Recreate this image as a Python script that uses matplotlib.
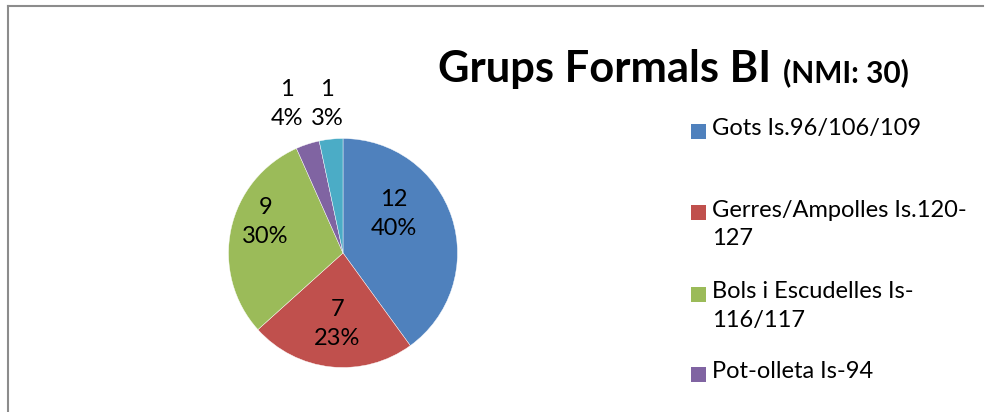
import matplotlib as mpl
mpl.use("Agg")
import matplotlib.pyplot as plt
from matplotlib.patches import Rectangle
from matplotlib.lines import Line2D

# data
groups = ["Gots Is.96/106/109", "Gerres/Ampolles Is.120-\n127",
          "Bols i Escudelles Is-\n116/117", "Pot-olleta Is-94", "Altres"]
counts = [12, 7, 9, 1, 1]
pct_labels = ["40%", "23%", "30%", "4%", "3%"]
colors = ["#4F81BD", "#C0504D", "#9BBB59", "#8064A2", "#4BACC6"]

# label spots in pie-radius units (Excel "best fit")
label_pos = [(0.44, 0.34), (-0.05, -0.62), (-0.68, 0.27), (-0.49, 1.30), (-0.14, 1.30)]

plt.rcParams['font.family'] = ['Lato', 'DejaVu Sans']
W, H = 992, 412
fig = plt.figure(figsize=(W / 100, H / 100), dpi=100)

# pie, centre (343, 253) px from top, radius ~114.5 px
cx, cy, r = 343, 253, 114.5
ax = fig.add_axes([(cx - r) / W, (H - cy - r) / H, 2 * r / W, 2 * r / H])
wedges, _ = ax.pie(counts, colors=colors, startangle=90, counterclock=False,
                   radius=1, wedgeprops=dict(edgecolor="white", linewidth=0.3))
ax.set_xlim(-1, 1)
ax.set_ylim(-1, 1)
ax.set_aspect("equal")
ax.axis("off")

for n, p, (lx, ly) in zip(counts, pct_labels, label_pos):
    ax.text(lx, ly, "%d\n%s" % (n, p), ha="center", va="center", fontsize=17,
            linespacing=1.45, color="black", clip_on=False)

# title
t1 = fig.text(438 / W, 1 - 82 / H, "Grups Formals BI", fontsize=31.3, fontweight="bold",
              ha="left", va="baseline")
fig.canvas.draw()
bb = t1.get_window_extent()
fig.text((bb.x1 + 12) / W, 1 - 82 / H, "(NMI: 30)", fontsize=21.5, fontweight="bold",
         ha="left", va="baseline")

# legend (only the first four entries fit in the frame)
entry_y = [131, 212, 294, 374]
for name, col, y in zip(groups, colors, entry_y):
    fig.patches.append(Rectangle((691 / W, 1 - (y + 7.5) / H), 15 / W, 15 / H,
                                 transform=fig.transFigure, facecolor=col,
                                 edgecolor="none"))
    fig.text(712 / W, 1 - (y - 12.5) / H, name, fontsize=17, ha="left", va="top",
             linespacing=1.45)

# chart frame (top and left edges visible)
fig.lines.append(Line2D([8 / W, 983 / W], [1 - 6 / H, 1 - 6 / H],
                        transform=fig.transFigure, color="#8C8C8C", linewidth=1.5))
fig.lines.append(Line2D([8 / W, 8 / W], [0, 1 - 6 / H],
                        transform=fig.transFigure, color="#8C8C8C", linewidth=1.5))

fig.savefig("out.png", dpi=100)
